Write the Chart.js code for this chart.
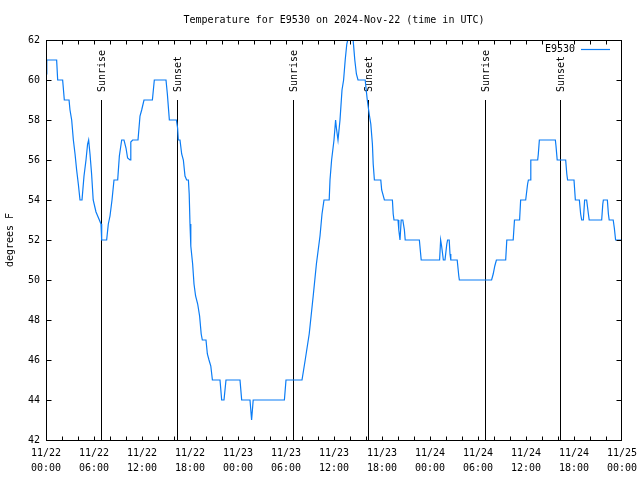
<!DOCTYPE html>
<html>
<head>
<meta charset="utf-8">
<script src="https://cdn.jsdelivr.net/npm/chart.js@4"></script>
<style>
	body { margin: 0; background: #fff; }
	canvas { display: block; }
</style>
</head>
<body>
<canvas id="chart" width="640" height="480"></canvas>
<script>
// hours since 11/22 00:00 UTC
const hours = [
	0, 0.1, 1.33, 1.46, 2.08, 2.29, 2.88, 3.0, 3.21, 3.42, 3.63, 3.83, 4.04, 4.25, 4.5, 4.75, 5.0, 5.2, 5.33, 5.5,
	5.7, 5.9, 6.25, 6.67, 6.875, 6.96, 7.58, 7.79, 8.0, 8.25, 8.5, 8.96, 9.17, 9.46, 9.75, 10.0, 10.2, 10.5, 10.6, 10.83,
	11.5, 11.75, 11.96, 12.25, 13.3, 13.54, 15.0, 15.17, 15.42, 16.3, 16.45, 16.54, 16.75, 16.96, 17.17, 17.375, 17.58, 17.8, 17.9, 18.0,
	18.1, 18.33, 18.5, 18.7, 18.96, 19.2, 19.4, 19.54, 20.0, 20.17, 20.375, 20.6, 20.8, 21.75, 21.96, 22.25, 22.5, 24.25, 24.46, 25.5,
	25.7, 25.9, 29.8, 30.0, 32.0, 32.4, 32.9, 33.4, 33.8, 34.25, 34.5, 34.75, 35.4, 35.5, 35.7, 36.0, 36.2, 36.3, 36.5, 36.75,
	37.0, 37.2, 37.4, 37.6, 37.9, 38.1, 38.35, 38.6, 38.8, 39.0, 39.9, 40.0, 40.16, 40.4, 40.6, 40.8, 40.9, 41.05, 41.85, 41.96,
	42.3, 43.3, 43.4, 43.5, 44.0, 44.1, 44.25, 44.4, 44.6, 44.8, 44.9, 46.67, 46.9, 49.2, 49.33, 49.45, 49.67, 49.875, 50.1, 50.2,
	50.4, 50.5, 50.6, 51.4, 51.6, 51.67, 55.7, 55.9, 56.1, 56.3, 57.46, 57.6, 58.4, 58.56, 59.2, 59.33, 59.96, 60.2, 60.3, 60.5,
	60.6, 61.46, 61.54, 61.67, 63.67, 63.75, 63.9, 64.96, 65.1, 65.2, 66.0, 66.17, 66.67, 66.83, 66.96, 67.17, 67.33, 67.58, 67.8, 67.9,
	69.46, 69.6, 69.67, 70.17, 70.3, 70.4, 70.9, 71.04, 71.2, 72.0,
]
const temps = [
	60.3, 61, 61, 60, 60, 59, 59, 58.5, 58, 57, 56.3, 55.5, 54.8, 54, 54, 55.2, 56, 56.8, 57, 56.3,
	55.3, 54, 53.4, 53, 52.8, 52, 52, 52.8, 53.2, 54, 55, 55, 56.2, 57, 57, 56.6, 56.1, 56, 56.9, 57,
	57, 58.2, 58.5, 59, 59, 60, 60, 59.3, 58, 58, 57.6, 57, 57, 56.3, 56, 55.2, 55, 55, 54.3, 52.8,
	51.7, 50.8, 49.8, 49.2, 48.8, 48.2, 47.3, 47, 47, 46.3, 46, 45.7, 45, 45, 44, 44, 45, 45, 44, 44,
	43, 44, 44, 45, 45, 46, 47.3, 49.2, 50.8, 52.2, 53.3, 54, 54, 55, 56, 57, 58, 57.6, 57, 58,
	59.5, 60, 61, 61.8, 62.3, 63, 62.2, 61, 60.3, 60, 60, 59.6, 59, 58.3, 57.8, 56.8, 55.8, 55, 55, 54.5,
	54, 54, 53.3, 53, 53, 52.5, 52, 53, 53, 52.5, 52, 52, 51, 51, 52, 51.7, 51, 51, 51.8, 52,
	52, 51.3, 51, 51, 50.2, 50, 50, 50.3, 50.7, 51, 51, 52, 52, 53, 53, 54, 54, 54.8, 55, 55,
	56, 56, 56.3, 57, 57, 56.7, 56, 56, 55.3, 55, 55, 54, 54, 53.3, 53, 53, 54, 54, 53.3, 53,
	53, 53.8, 54, 54, 53.3, 53, 53, 52.6, 52, 52,
]

const sunriseHours = [6.92, 30.93, 54.92]
const sunsetHours = [16.42, 40.3, 64.3]
const sunTop = 59

const tickDates = ['11/22', '11/22', '11/22', '11/22', '11/23', '11/23', '11/23', '11/23', '11/24', '11/24', '11/24', '11/24', '11/25']
const tickTimes = ['00:00', '06:00', '12:00', '18:00', '00:00', '06:00', '12:00', '18:00', '00:00', '06:00', '12:00', '18:00', '00:00']

const FONT = 'DejaVu Sans Mono'
const LINE_COLOR = '#0a7cf5'

// gnuplot-ish frame, inward ticks, sun markers and legend
const gnuFrame = {
	id: 'gnuFrame',
	beforeDatasetsDraw(chart) {
		const { ctx, scales } = chart
		const x = scales.x
		const y = scales.y
		const yTop = y.getPixelForValue(sunTop)
		const yBot = y.getPixelForValue(y.min)
		ctx.save()
		ctx.strokeStyle = '#000'
		ctx.lineWidth = 1
		ctx.fillStyle = '#000'
		ctx.font = `10px "${FONT}"`
		const marks = [
			...sunriseHours.map((h) => [h, 'Sunrise']),
			...sunsetHours.map((h) => [h, 'Sunset']),
		]
		marks.forEach(([h, label]) => {
			const px = Math.round(x.getPixelForValue(h)) + 0.5
			ctx.beginPath()
			ctx.moveTo(px, yTop)
			ctx.lineTo(px, yBot)
			ctx.stroke()
			ctx.save()
			ctx.translate(px + 1, yTop - 8)
			ctx.rotate(-Math.PI / 2)
			ctx.textAlign = 'left'
			ctx.textBaseline = 'middle'
			ctx.fillText(label, 0, 0)
			ctx.restore()
		})
		ctx.restore()
	},
	afterDatasetsDraw(chart) {
		const { ctx, chartArea, scales } = chart
		const { left, top, right, bottom } = chartArea
		const l = Math.round(left) + 0.5
		const t = Math.round(top) + 0.5
		const r = Math.round(right) - 0.5
		const b = Math.round(bottom) + 0.5
		ctx.save()
		ctx.strokeStyle = '#000'
		ctx.lineWidth = 1
		ctx.beginPath()
		// x ticks every 2 hours, top and bottom
		for (let h = scales.x.min + 2; h < scales.x.max; h += 2) {
			const px = Math.round(scales.x.getPixelForValue(h)) + 0.5
			ctx.moveTo(px, b)
			ctx.lineTo(px, b - 4)
			ctx.moveTo(px, t)
			ctx.lineTo(px, t + 4)
		}
		scales.y.ticks.forEach((tk) => {
			const py = Math.round(scales.y.getPixelForValue(tk.value)) + 0.5
			ctx.moveTo(l, py)
			ctx.lineTo(l + 5, py)
			ctx.moveTo(r, py)
			ctx.lineTo(r - 5, py)
		})
		ctx.stroke()
		ctx.strokeRect(l, t, r - l, b - t)

		// legend
		ctx.fillStyle = '#000'
		ctx.font = `10px "${FONT}"`
		ctx.textAlign = 'right'
		ctx.textBaseline = 'middle'
		ctx.fillText(chart.data.datasets[0].label, 575, 49)
		ctx.strokeStyle = LINE_COLOR
		ctx.lineWidth = 1.2
		ctx.beginPath()
		ctx.moveTo(581, 49.5)
		ctx.lineTo(610, 49.5)
		ctx.stroke()
		ctx.restore()
	},
}

const points = hours.map((h, i) => ({ x: h, y: temps[i] }))

new Chart(document.getElementById('chart'), {
	type: 'line',
	data: {
		datasets: [
			{
				label: 'E9530',
				data: points,
				borderColor: LINE_COLOR,
				borderWidth: 1.2,
				pointRadius: 0,
				tension: 0,
				fill: false,
			},
		],
	},
	options: {
		responsive: false,
		animation: false,
		devicePixelRatio: 1,
		layout: { padding: { left: 0, right: 18, top: 0, bottom: 0 } },
		plugins: {
			legend: { display: false },
			tooltip: { enabled: false },
			title: {
				display: true,
				text: 'Temperature for E9530 on 2024-Nov-22 (time in UTC)',
				color: '#000',
				fullSize: false,
				font: { family: FONT, size: 10, weight: 'normal', lineHeight: '12px' },
				padding: { top: 14, bottom: 14 },
			},
		},
		scales: {
			x: {
				type: 'linear',
				min: 0,
				max: 72,
				grid: { display: false, drawTicks: false, tickLength: 0 },
				border: { display: false },
				afterFit: (scale) => {
					scale.height = 40
					scale.paddingLeft = 0
					scale.paddingRight = 0
				},
				ticks: {
					stepSize: 6,
					autoSkip: false,
					maxRotation: 0,
					padding: 6,
					color: '#000',
					font: { family: FONT, size: 10, lineHeight: '15px' },
					callback: (value) => {
						const i = Math.round(value / 6)
						return [tickDates[i], tickTimes[i]]
					},
				},
			},
			y: {
				min: 42,
				max: 62,
				grid: { display: false, drawTicks: false, tickLength: 0 },
				border: { display: false },
				afterFit: (scale) => {
					scale.width = 46
				},
				title: {
					display: true,
					text: 'degrees F',
					color: '#000',
					font: { family: FONT, size: 10, lineHeight: '12px' },
					padding: { top: 4, bottom: 0 },
				},
				ticks: {
					stepSize: 2,
					padding: 6,
					color: '#000',
					font: { family: FONT, size: 10 },
				},
			},
		},
	},
	plugins: [gnuFrame],
})
</script>
</body>
</html>
